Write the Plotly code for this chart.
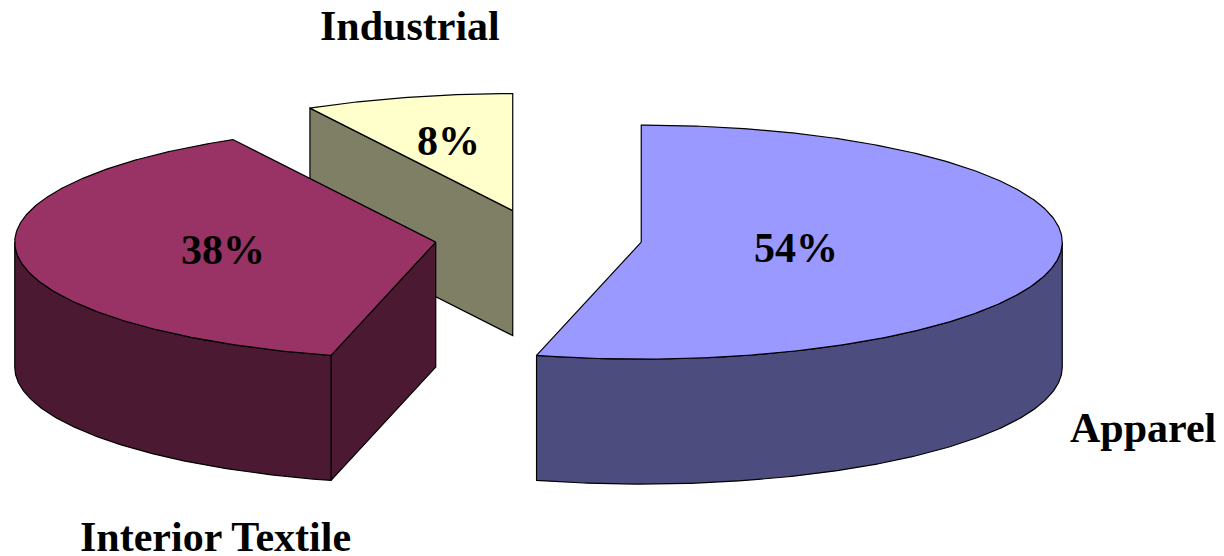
import numpy as np
import plotly.graph_objects as go

# ---- data ----
categories = ["Apparel", "Interior Textile", "Industrial"]
values = [54, 38, 8]

# ---- style ----
top_colors = ["#9999FF", "#993366", "#FFFFCC"]
side_colors = ["#4C4C7F", "#4C1933", "#7F7F66"]
pct_label_r = [0.37, 0.51, 0.61]          # radial fraction for % labels
cat_label_xy = [(1143, 428), (215, 537), (410, 26)]  # pixel positions of category labels

W, H = 1224, 556
CX, CY = 538.5, 238.5     # pie centre (pixels, y down)
RX, RY = 421, 117         # ellipse semi-axes
DEPTH = 125
EXPLODE = 0.246
FONT = "Liberation Serif, Times New Roman, serif"
FS = 42

total = float(sum(values))
fig = go.Figure()


def rim(cx, cy, a0, a1, n, dy=0.0):
    th = np.radians(np.linspace(a0, a1, n))
    return cx + RX * np.sin(th), cy - RY * np.cos(th) + dy


def poly(xs, ys, color):
    fig.add_trace(go.Scatter(
        x=list(xs) + [xs[0]], y=list(ys) + [ys[0]], mode="lines", fill="toself",
        fillcolor=color, line=dict(color="black", width=1.2),
        hoverinfo="skip", showlegend=False))


# slice angles (degrees clockwise from 12 o'clock)
slices = []
start = 0.0
for i, v in enumerate(values):
    end = start + 360.0 * v / total
    mid = np.radians((start + end) / 2)
    cx = CX + EXPLODE * RX * np.sin(mid)
    cy = CY - EXPLODE * RY * np.cos(mid)
    slices.append(dict(i=i, s=start, e=end, mid=mid, cx=cx, cy=cy))
    start = end

# painter's order: farther (smaller y) first
for sl in sorted(slices, key=lambda d: d["cy"]):
    i, s, e, cx, cy = sl["i"], sl["s"], sl["e"], sl["cx"], sl["cy"]
    # radial wall at start edge (visible if its normal faces the viewer)
    if np.cos(np.radians(s - 90)) < -1e-6:
        px, py = rim(cx, cy, s, s, 1)
        poly([cx, px[0], px[0], cx], [cy, py[0], py[0] + DEPTH, cy + DEPTH], side_colors[i])
    # radial wall at end edge
    if np.cos(np.radians(e + 90)) < -1e-6:
        px, py = rim(cx, cy, e, e, 1)
        poly([cx, px[0], px[0], cx], [cy, py[0], py[0] + DEPTH, cy + DEPTH], side_colors[i])
    # outer curved wall: front half is 90..270 degrees
    a0, a1 = max(s, 90.0), min(e, 270.0)
    if a1 > a0:
        n = max(int((a1 - a0) * 2), 4)
        tx, ty = rim(cx, cy, a0, a1, n)
        bx, by = rim(cx, cy, a1, a0, n, DEPTH)
        poly(np.concatenate([tx, bx]), np.concatenate([ty, by]), side_colors[i])
    # top face
    n = max(int((e - s) * 2), 4)
    ax, ay = rim(cx, cy, s, e, n)
    poly(np.concatenate([[cx], ax]), np.concatenate([[cy], ay]), top_colors[i])

annotations = []
for sl in slices:
    i = sl["i"]
    r = pct_label_r[i]
    lx = sl["cx"] + r * RX * np.sin(sl["mid"])
    ly = sl["cy"] - r * RY * np.cos(sl["mid"])
    annotations.append(dict(x=lx, y=ly, xref="x", yref="y", text=f"<b>{values[i]}%</b>",
                            showarrow=False, font=dict(family=FONT, size=FS, color="black"),
                            xanchor="center", yanchor="middle"))
for i, name in enumerate(categories):
    x, y = cat_label_xy[i]
    annotations.append(dict(x=x, y=y, xref="x", yref="y", text=f"<b>{name}</b>",
                            showarrow=False, font=dict(family=FONT, size=FS, color="black"),
                            xanchor="center", yanchor="middle"))

fig.update_layout(
    width=W, height=H, autosize=False,
    margin=dict(l=0, r=0, t=0, b=0),
    paper_bgcolor="white", plot_bgcolor="white",
    xaxis=dict(range=[0, W], visible=False, fixedrange=True),
    yaxis=dict(range=[H, 0], visible=False, fixedrange=True),
    annotations=annotations,
    showlegend=False,
)
fig.write_html("out.html", config={"displayModeBar": False},
               post_script="document.body.style.margin='0';document.body.style.overflow='hidden';")
